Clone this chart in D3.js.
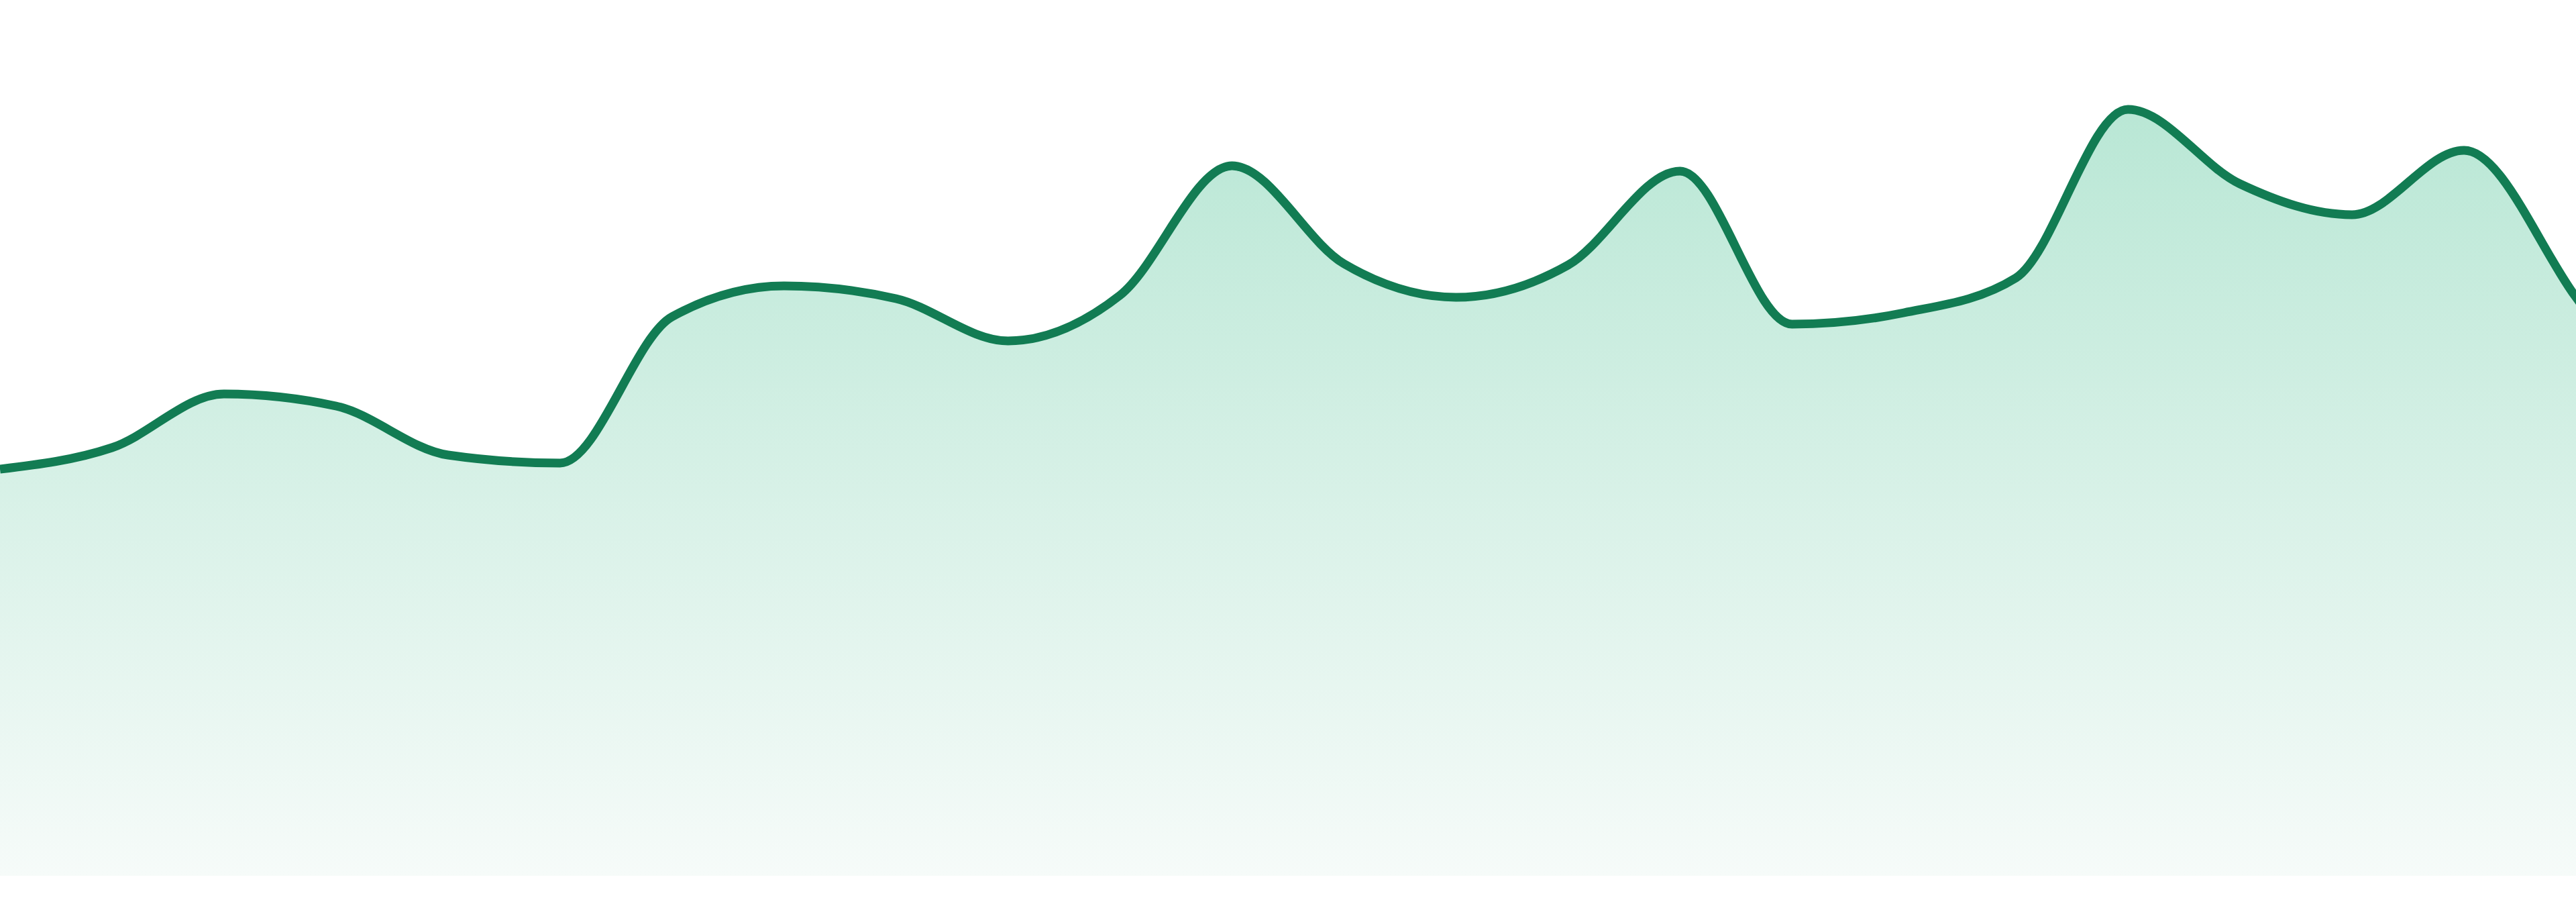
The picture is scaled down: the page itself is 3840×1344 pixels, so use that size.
<!DOCTYPE html>
<html>
<head>
<meta charset="utf-8">
<script src="https://cdn.jsdelivr.net/npm/d3@7"></script>
<style>
  body { margin: 0; background: #ffffff; overflow: hidden; }
</style>
</head>
<body>
<div id="visualization"></div>
<script>
// one value per step
// (the last step sits just past the right edge, the curve runs into it)
let steps = d3.range(25);
let values = [60.6, 63.8, 71.8, 70.0, 62.7, 61.5, 83.3, 87.9, 86.0, 79.7, 86.5, 105.8,
              91.2, 86.2, 91.0, 105.0, 82.2, 83.9, 89.1, 114.2, 103.1, 98.5, 108.1, 86.2,
              62.8];

let w = 3840;
let h = 1344;
let bottom = 1305;

let viz = d3.select("#visualization")
  .append("svg")
    .attr("width", w)
    .attr("height", h)
;

let data = steps.map(function(d, i){
  return { step: d, value: values[i] };
});

// 24 visible steps span the full width
let xScale = d3.scaleLinear().domain([0, 23]).range([0, w]);
let yScale = d3.scaleLinear().domain([0, 130.5]).range([bottom, 0]);

// soft green fade under the line
let defs = viz.append("defs");
let grad = defs.append("linearGradient")
    .attr("id", "areafade")
    .attr("gradientUnits", "userSpaceOnUse")
    .attr("x1", 0).attr("y1", yScale(d3.max(values)))
    .attr("x2", 0).attr("y2", bottom)
;
grad.append("stop").attr("offset", "0%").attr("stop-color", "#b9e7d5");
grad.append("stop").attr("offset", "100%").attr("stop-color", "#f6fbf9");

let area = d3.area()
  .x(function(d){ return xScale(d.step) })
  .y0(bottom)
  .y1(function(d){ return yScale(d.value) })
  .curve(d3.curveMonotoneX)
;

let line = d3.line()
  .x(function(d){ return xScale(d.step) })
  .y(function(d){ return yScale(d.value) })
  .curve(d3.curveMonotoneX)
;

viz.append("path")
  .datum(data)
  .attr("d", area)
  .attr("fill", "url(#areafade)")
;

viz.append("path")
  .datum(data)
  .attr("d", line)
  .attr("fill", "none")
  .attr("stroke", "#127c53")
  .attr("stroke-width", 13)
  .attr("stroke-linejoin", "round")
;
</script>
</body>
</html>
